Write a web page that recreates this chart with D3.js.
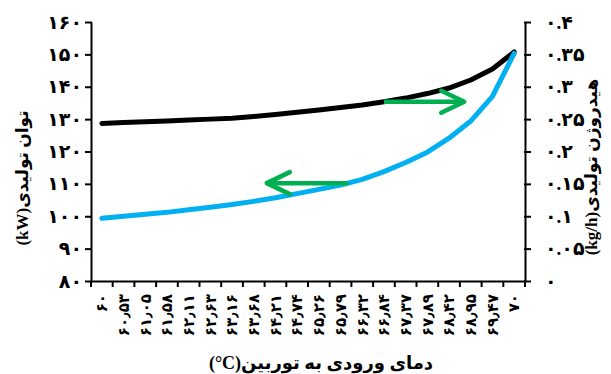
<!DOCTYPE html>
<html><head><meta charset="utf-8">
<script src="https://cdn.jsdelivr.net/npm/d3@7"></script>
<style>
body{margin:0;background:#fff;}
text{font-family:"Liberation Serif","DejaVu Sans",serif;font-weight:bold;fill:#000;}
</style></head><body>
<svg id="c" width="611" height="374"></svg>
<script>
const categories = ["۶۰","۶۰٫۵۳","۶۱٫۰۵","۶۱٫۵۸","۶۲٫۱۱","۶۲٫۶۳","۶۳٫۱۶","۶۳٫۶۸","۶۴٫۲۱","۶۴٫۷۴","۶۵٫۲۶","۶۵٫۷۹","۶۶٫۳۲","۶۶٫۸۴","۶۷٫۳۷","۶۷٫۸۹","۶۸٫۴۲","۶۸٫۹۵","۶۹٫۴۷","۷۰"];
const powerKW = [99.4,100.0,100.6,101.2,102.0,102.8,103.6,104.6,105.7,107.0,108.3,109.6,111.4,113.8,116.6,119.8,124.1,129.4,137.0,150.3];
const hydrogenKgH = [0.2433,0.2446,0.2458,0.2472,0.2486,0.2500,0.2515,0.2540,0.2570,0.2605,0.2642,0.2678,0.2717,0.2768,0.2825,0.2895,0.2980,0.3104,0.3274,0.3537];
const leftTicks = [80,90,100,110,120,130,140,150,160];
const leftTickLabels = ["۸۰","۹۰","۱۰۰","۱۱۰","۱۲۰","۱۳۰","۱۴۰","۱۵۰","۱۶۰"];
const rightTicks = [0,0.05,0.1,0.15,0.2,0.25,0.3,0.35,0.4];
const rightTickLabels = ["۰","۰.۰۵","۰.۱","۰.۱۵","۰.۲","۰.۲۵","۰.۳","۰.۳۵","۰.۴"];
const leftTitle = "توان تولیدی(kW)";
const rightTitle = "هیدروژن تولیدی(kg/h)";
const xTitle = "دمای ورودی به توربین(\u200E°C)";
// annotation arrows: start at a point index on a series, end at a fractional index
const arrowHydrogen = {startIndex:13, endIndex:16.7};
const arrowPower = {startIndex:11.35, endIndex:7.6};

const svg = d3.select("#c");
const m = {l:91, r:525, t:22, b:281};
const x = d3.scaleBand().domain(categories).range([m.l, m.r]).padding(0);
const xi = d3.scaleLinear().domain([0, categories.length-1]).range([x(categories[0])+x.bandwidth()/2, x(categories[categories.length-1])+x.bandwidth()/2]);
const yL = d3.scaleLinear().domain([80,160]).range([m.b, m.t]);
const yR = d3.scaleLinear().domain([0,0.4]).range([m.b, m.t]);

// left axis
const la = d3.axisLeft(yL).tickValues(leftTicks).tickFormat((d,i)=>leftTickLabels[i]).tickSizeInner(6).tickSizeOuter(0).tickPadding(3);
const gl = svg.append("g").attr("transform",`translate(${m.l},0)`).call(la);
gl.select(".domain").attr("stroke-width",2);
gl.selectAll(".tick line").attr("stroke-width",2).attr("x2",-6).attr("x1",1);
gl.selectAll("text").style("font-size","19px");

const ra = d3.axisRight(yR).tickValues(rightTicks).tickFormat((d,i)=>rightTickLabels[i]).tickSizeInner(6).tickSizeOuter(0).tickPadding(14);
const gr = svg.append("g").attr("transform",`translate(${m.r},0)`).call(ra);
gr.select(".domain").attr("stroke-width",2);
gr.selectAll(".tick line").attr("stroke-width",2).attr("x1",-1);
gr.selectAll("text").style("font-size","19px");

// bottom axis
const ba = d3.axisBottom(x).tickSize(0).tickPadding(0);
const gb = svg.append("g").attr("transform",`translate(0,${m.b})`).call(ba);
gb.select(".domain").attr("stroke-width",2);
gb.selectAll(".tick line").remove();
gb.selectAll(".tick text")
  .attr("transform","rotate(-90)")
  .attr("x",-13).attr("y",0).attr("dy","0.35em")
  .attr("text-anchor","end")
  .style("font-size","15px");
// tick marks at band boundaries
const bounds = categories.map(c=>x(c)).concat([x(categories[categories.length-1])+x.bandwidth()]);
gb.selectAll(".bt").data(bounds).enter().append("line")
  .attr("x1",d=>d).attr("x2",d=>d).attr("y1",0).attr("y2",6)
  .attr("stroke","#000").attr("stroke-width",2);

// lines
const lineP = d3.line().x((d,i)=>xi(i)).y(d=>yL(d));
const lineH = d3.line().x((d,i)=>xi(i)).y(d=>yR(d));
svg.append("path").datum(hydrogenKgH).attr("d",lineH).attr("fill","none")
  .attr("stroke","#000").attr("stroke-width",5).attr("stroke-linecap","round").attr("stroke-linejoin","round");
svg.append("path").datum(powerKW).attr("d",lineP).attr("fill","none")
  .attr("stroke","#00B0F0").attr("stroke-width",5).attr("stroke-linecap","round").attr("stroke-linejoin","round");

// arrows
function interp(arr, t){const i=Math.floor(t), f=t-i; return i+1<arr.length? arr[i]+(arr[i+1]-arr[i])*f : arr[i];}
function arrow(x0,y0,x1){
  const dir = x1>x0?1:-1;
  const g = svg.append("g").attr("stroke","#00B050").attr("stroke-width",4.5).attr("fill","none").attr("stroke-linecap","round").attr("stroke-linejoin","round");
  g.append("line").attr("x1",x0).attr("y1",y0).attr("x2",x1).attr("y2",y0).attr("stroke-linecap","butt");
  g.append("polyline").attr("points",`${x1-dir*23},${y0-11} ${x1},${y0} ${x1-dir*23},${y0+11}`);
}
arrow(xi(arrowHydrogen.startIndex), yR(interp(hydrogenKgH, arrowHydrogen.startIndex)), xi(arrowHydrogen.endIndex));
arrow(xi(arrowPower.startIndex), yL(interp(powerKW, arrowPower.startIndex)), xi(arrowPower.endIndex));

// titles
svg.append("text").attr("transform","translate(28,178) rotate(-90)").attr("text-anchor","middle").attr("direction","rtl").style("font-size","17px").text(leftTitle);
svg.append("text").attr("transform","translate(597,167) rotate(-90)").attr("text-anchor","middle").attr("direction","rtl").style("font-size","17px").text(rightTitle);
svg.append("text").attr("x",321).attr("y",369).attr("text-anchor","middle").attr("direction","rtl").style("font-size","18px").text(xTitle);
</script></body></html>
